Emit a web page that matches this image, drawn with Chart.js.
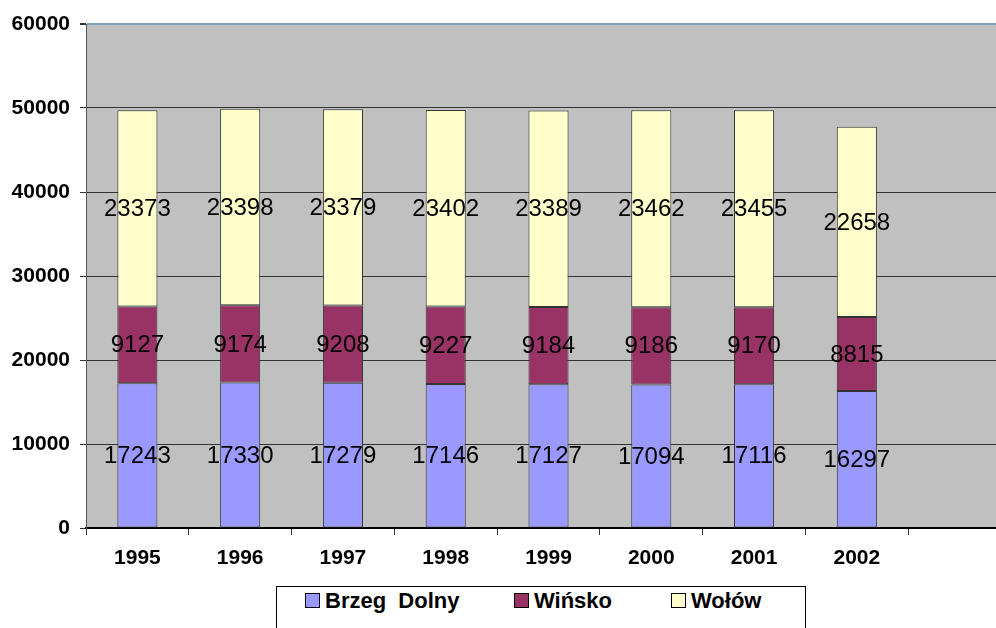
<!DOCTYPE html>
<html>
<head>
<meta charset="utf-8">
<script src="https://cdn.jsdelivr.net/npm/chart.js@4"></script>
<style>
  body { margin: 0; background: #fff; overflow: hidden; }
  .wrap { position: relative; width: 996px; height: 628px; overflow: hidden; }
  #myChart { position: absolute; left: 0; top: 0; }
  .legend {
    position: absolute; left: 276px; top: 586px; width: 530px; height: 60px;
    border: 1px solid #000; background: #fff; box-sizing: border-box;
    font: bold 22px "Liberation Sans", Arial, sans-serif; color: #000;
  }
  .legend span.item { position: absolute; top: 1px; white-space: pre; line-height: 26px; }
  .legend i {
    display: inline-block; width: 13px; height: 13px; border: 1px solid #000;
    margin-right: 5px; vertical-align: 0px;
  }
</style>
</head>
<body>
<div class="wrap">
  <canvas id="myChart" width="1012" height="628"></canvas>
  <div class="legend" id="legend"></div>
</div>
<script>
const years = ["1995", "1996", "1997", "1998", "1999", "2000", "2001", "2002", ""];
const seriesNames = ["Brzeg  Dolny", "Wińsko", "Wołów"];
const brzegDolny = [17243, 17330, 17279, 17146, 17127, 17094, 17116, 16297, null];
const winsko = [9127, 9174, 9208, 9227, 9184, 9186, 9170, 8815, null];
const wolow = [23373, 23398, 23379, 23402, 23389, 23462, 23455, 22658, null];
const yTicks = [0, 10000, 20000, 30000, 40000, 50000, 60000];
const colors = ["#9999ff", "#993366", "#ffffcc"];

const ctx = document.getElementById("myChart").getContext("2d");

// grey plot background
const plotBg = {
  id: "plotBg",
  beforeDraw(chart) {
    const a = chart.chartArea;
    const c = chart.ctx;
    c.save();
    c.fillStyle = "#c0c0c0";
    c.fillRect(a.left, a.top, a.right - a.left, a.bottom - a.top);
    c.restore();
  }
};

// value in the middle of every segment, drawn last
const segmentLabels = {
  id: "segmentLabels",
  afterDraw(chart) {
    const c = chart.ctx;
    c.save();
    c.font = "24px 'Liberation Sans', Arial, sans-serif";
    c.fillStyle = "#000";
    c.textAlign = "center";
    c.textBaseline = "middle";
    chart.data.datasets.forEach((ds, i) => {
      chart.getDatasetMeta(i).data.forEach((bar, j) => {
        if (ds.data[j] == null) return;
        c.fillText(String(ds.data[j]), bar.x, (bar.y + bar.base) / 2 + 1);
      });
    });
    c.restore();
  }
};

const tickFont = { family: "'Liberation Sans', Arial, sans-serif", size: 21, weight: "bold" };

const myChart = new Chart(ctx, {
  type: "bar",
  data: {
    labels: years,
    datasets: [
      { label: seriesNames[0], data: brzegDolny, backgroundColor: colors[0] },
      { label: seriesNames[1], data: winsko, backgroundColor: colors[1] },
      { label: seriesNames[2], data: wolow, backgroundColor: colors[2] },
    ].map((d) => Object.assign(d, {
      borderColor: "#333",
      borderWidth: 1,
      borderSkipped: false,
      barPercentage: 0.39,
      categoryPercentage: 1,
    })),
  },
  options: {
    responsive: false,
    animation: false,
    layout: { padding: { top: 24, right: 1, left: 0, bottom: 0 } },
    plugins: { legend: { display: false }, tooltip: { enabled: false } },
    scales: {
      x: {
        stacked: true,
        z: 1,
        grid: {
          offset: true,
          drawOnChartArea: false,
          drawTicks: true,
          tickLength: 7,
          color: "#333",
        },
        border: { color: "#000", width: 2 },
        ticks: { color: "#000", padding: 11, font: tickFont },
        afterFit(scale) { scale.height = 100; },
      },
      y: {
        stacked: true,
        z: 1,
        min: 0,
        max: 60000,
        afterBuildTicks(scale) { scale.ticks = yTicks.map((v) => ({ value: v })); },
        grid: {
          color: (c) => (c.tick && c.tick.value === 60000 ? "#7f9fbf" : "#333"),
          lineWidth: (c) => (c.tick && c.tick.value === 60000 ? 2 : 1),
          tickColor: "#333",
          tickLength: 6,
        },
        border: { color: "#4a5766", width: 1 },
        ticks: {
          color: "#000",
          padding: 10,
          font: tickFont,
          callback: (v) => String(v),
        },
        afterFit(scale) { scale.width = 86; },
      },
    },
  },
  plugins: [plotBg, segmentLabels],
});

// legend box
const legendEl = document.getElementById("legend");
const legendX = [28, 237, 394];
seriesNames.forEach((name, i) => {
  const s = document.createElement("span");
  s.className = "item";
  s.style.left = legendX[i] + "px";
  s.innerHTML = '<i style="background:' + colors[i] + '"></i>' + name;
  legendEl.appendChild(s);
});
</script>
</body>
</html>
